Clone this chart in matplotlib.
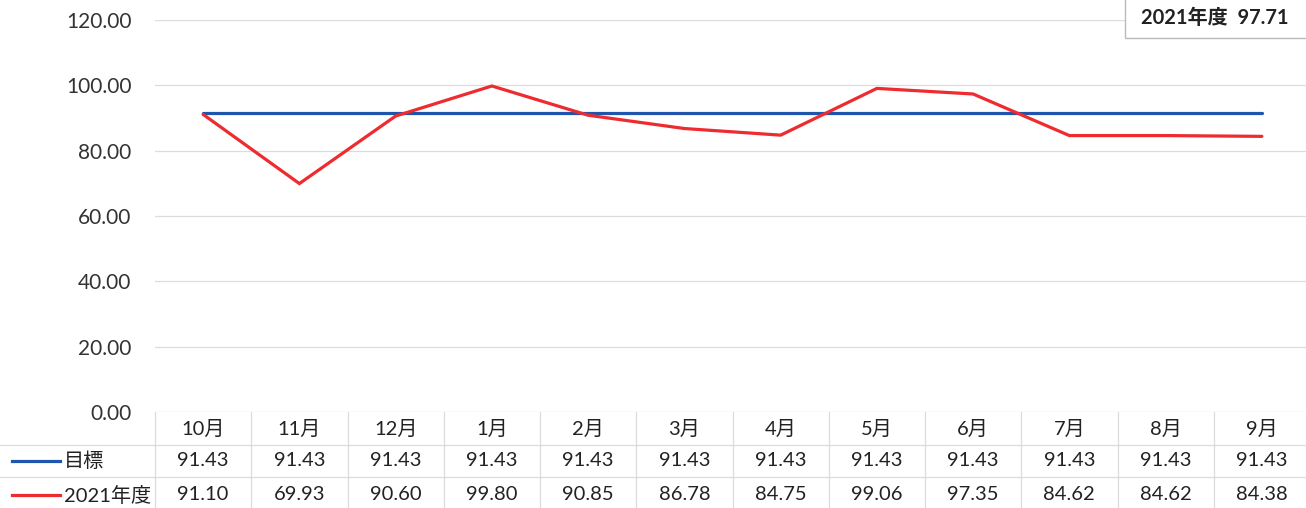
import matplotlib.pyplot as plt
from matplotlib.transforms import blended_transform_factory
from matplotlib.patches import Rectangle
from matplotlib.lines import Line2D

plt.rcParams['font.family'] = ['Lato', 'Noto Sans CJK JP', 'DejaVu Sans']

months = ["10月", "11月", "12月", "1月", "2月", "3月", "4月", "5月", "6月", "7月", "8月", "9月"]
target = [91.43] * 12
fy2021 = [91.10, 69.93, 90.60, 99.80, 90.85, 86.78, 84.75, 99.06, 97.35, 84.62, 84.62, 84.38]
series_names = ["目標", "2021年度"]
summary_label = "2021年度"
summary_value = 97.71

blue = "#1f55ac"
red = "#ee2b2f"
grid = "#dcdcdc"
txt = "#222222"

W, H = 1306, 508
fig = plt.figure(figsize=(W / 100, H / 100), dpi=100)

x0, x1 = 155, 1310
y_top, y_bot = 20, 412
ax = fig.add_axes([x0 / W, 1 - y_bot / H, (x1 - x0) / W, (y_bot - y_top) / H])

xs = list(range(len(months)))
ax.plot(xs, target, color=blue, lw=2.3, solid_capstyle="round")
ax.plot(xs, fy2021, color=red, lw=2.3, solid_capstyle="round", solid_joinstyle="miter")

ax.set_xlim(-0.5, len(months) - 0.5)
ax.set_ylim(0, 120)
ax.set_yticks(range(0, 121, 20))
ax.set_yticklabels([f"{v:.2f}" for v in range(0, 121, 20)], fontsize=15, color="#333333")
ax.tick_params(axis="y", length=0, pad=17)
ax.set_xticks([])
ax.grid(axis="y", color=grid, lw=0.9)
ax.set_axisbelow(True)
for s in ax.spines.values():
    s.set_visible(False)

# data table below the plot
trans = blended_transform_factory(ax.transData, fig.transFigure)
def fy(py):
    return 1 - py / H

row_y = [429, 461, 495]
fs = 14.5
for i, m in enumerate(months):
    ax.text(i, fy(row_y[0]), m, transform=trans, ha="center", va="center", fontsize=fs, color=txt)
    ax.text(i, fy(row_y[1]), f"{target[i]:.2f}", transform=trans, ha="center", va="center", fontsize=fs, color=txt)
    ax.text(i, fy(row_y[2]), f"{fy2021[i]:.2f}", transform=trans, ha="center", va="center", fontsize=fs, color=txt)

for b in range(len(months) + 1):
    ax.plot([b - 0.5, b - 0.5], [fy(412), fy(H + 5)], transform=trans, color=grid, lw=0.9, clip_on=False)
for py in [445, 477]:
    fig.add_artist(Line2D([0, 1], [fy(py), fy(py)], color=grid, lw=0.9))

for name, col, py in zip(series_names, [blue, red], row_y[1:]):
    fig.add_artist(Line2D([12 / W, 60 / W], [fy(py), fy(py)], color=col, lw=2.3))
    fig.text(64 / W, fy(py), name, ha="left", va="center", fontsize=fs, color=txt)

# summary box
fig.add_artist(Rectangle((1125 / W, fy(38)), 200 / W, 50 / H, transform=fig.transFigure,
                         facecolor="white", edgecolor="#bbbbbb", lw=1))
fig.text(1215 / W, fy(18), f"{summary_label}  {summary_value:.2f}", ha="center", va="center",
         fontsize=14.5, fontweight="bold", color=txt)

fig.savefig("out.png", dpi=100)
